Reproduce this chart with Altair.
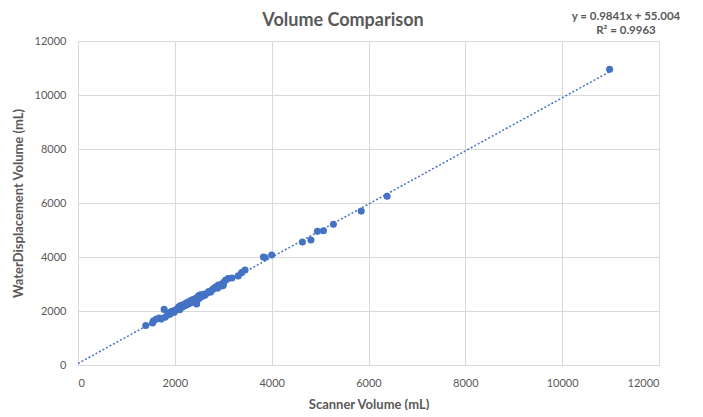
import altair as alt
import pandas as pd

# Scanner volume (mL) vs water displacement volume (mL)
scanner = [1400, 1540, 1560, 1620, 1680, 1720, 1780, 1800, 1850, 1870, 1900, 1930,
           1960, 1990, 2010, 2050, 2080, 2100, 2120, 2150, 2170, 2200, 2220, 2240,
           2260, 2280, 2300, 2320, 2340, 2360, 2380, 2400, 2420, 2450, 2460, 2470,
           2490, 2510, 2530, 2560, 2590, 2620, 2660, 2700, 2740, 2780, 2820, 2850,
           2880, 2900, 2940, 2970, 3000, 3010, 3050, 3100, 3180, 3310, 3380, 3450,
           3830, 3860, 4000, 4635, 4810, 4945, 5070, 5275, 5850, 6384, 10980]
water = [1460, 1560, 1640, 1700, 1740, 1700, 2060, 1770, 1850, 1930, 1880, 1980,
         2000, 1950, 2040, 2070, 2160, 2050, 2200, 2140, 2230, 2190, 2280, 2220,
         2320, 2260, 2350, 2300, 2400, 2330, 2420, 2380, 2450, 2260, 2500, 2420,
         2560, 2480, 2600, 2540, 2620, 2580, 2660, 2720, 2700, 2800, 2860, 2900,
         2840, 2960, 2920, 3000, 2940, 3060, 3150, 3200, 3220, 3300, 3420, 3520,
         4000, 3980, 4075, 4555, 4630, 4950, 4975, 5210, 5700, 6250, 10950]

slope = 0.9841
intercept = 55.004
trend_x = [0, 10980]
trend_y = [slope * v + intercept for v in trend_x]

title_text = "Volume Comparison"
eq_lines = ["y = 0.9841x + 55.004", "R² = 0.9963"]
x_title = "Scanner Volume (mL)"
y_title = "WaterDisplacement Volume (mL)"
ticks = [0, 2000, 4000, 6000, 8000, 10000, 12000]

pts = pd.DataFrame({"x": scanner, "y": water})
trend = pd.DataFrame({"x": trend_x, "y": trend_y})

FONT = "Lato"
GRAY = "#595959"
BLUE = "#4472c4"

xs = alt.Scale(domain=[0, 12000], nice=False)
ys = alt.Scale(domain=[0, 12000], nice=False)

x_axis = alt.Axis(values=ticks, format="d", title=x_title, grid=True, gridColor="#d9d9d9",
                  domainColor="#d9d9d9", ticks=False, labelPadding=12,
                  labelColor=GRAY, labelFontSize=11, labelFont=FONT,
                  titleFont=FONT, titleFontSize=13, titleColor=GRAY,
                  titleFontWeight="bold", titlePadding=10)
y_axis = alt.Axis(values=ticks, format="d", title=y_title, grid=True, gridColor="#d9d9d9",
                  domainColor="#d9d9d9", ticks=False, labelPadding=12,
                  labelColor=GRAY, labelFontSize=11, labelFont=FONT,
                  titleFont=FONT, titleFontSize=13, titleColor=GRAY,
                  titleFontWeight="bold", titlePadding=9)

line = alt.Chart(trend).mark_line(color=BLUE, strokeDash=[2, 2], strokeWidth=1.5).encode(
    x=alt.X("x:Q", scale=xs, axis=x_axis),
    y=alt.Y("y:Q", scale=ys, axis=y_axis),
)

points = alt.Chart(pts).mark_circle(color=BLUE, size=50, opacity=1).encode(
    x=alt.X("x:Q", scale=xs),
    y=alt.Y("y:Q", scale=ys),
)

title = alt.Chart(pd.DataFrame({"t": [title_text]})).mark_text(
    font=FONT, fontSize=18, fontWeight="bold", color=GRAY, align="center"
).encode(text="t:N", x=alt.value(265), y=alt.value(-20))

eq = alt.Chart(pd.DataFrame({"t": eq_lines, "yy": [-24, -10]})).mark_text(
    font=FONT, fontSize=11.5, fontWeight="bold", color=GRAY, align="center"
).encode(text="t:N", x=alt.value(548), y=alt.Y("yy:Q", scale=None))

chart = alt.layer(line, points, title, eq).properties(
    width=581, height=324,
    autosize=alt.AutoSizeParams(type="none"),
    padding={"left": 70, "top": 33, "right": 36, "bottom": 45},
    background="white",
).configure_view(stroke=None)

chart.save("out.html", embed_options={"renderer": "svg", "actions": False})
